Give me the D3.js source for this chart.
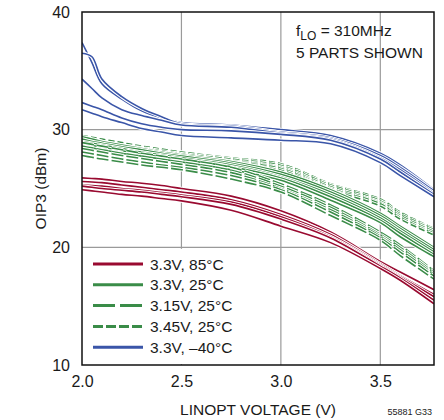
<!DOCTYPE html>
<html>
<head>
<meta charset="utf-8">
<script src="https://cdn.jsdelivr.net/npm/d3@7"></script>
<style>
body { margin: 0; background: #fff; }
svg { display: block; font-family: "Liberation Sans", Arial, sans-serif; }
</style>
</head>
<body>
<svg id="chart" width="444" height="420"></svg>
<script>
// ---- data ----
const xs = [2.0, 2.05, 2.1, 2.2, 2.3, 2.4, 2.5, 2.75, 3.0, 3.25, 3.5, 3.6, 3.77];

const red85 = [
  [25.9, 25.85, 25.8, 25.6, 25.45, 25.25, 25.0, 24.35, 23.1, 21.3, 18.8, 17.9, 16.4],
  [25.6, 25.55, 25.5, 25.3, 25.1, 24.9, 24.7, 24.05, 22.8, 21.1, 18.6, 17.6, 16.0],
  [25.3, 25.25, 25.2, 25.0, 24.85, 24.65, 24.45, 23.85, 22.6, 20.9, 18.5, 17.5, 15.8],
  [25.2, 25.1, 25.0, 24.85, 24.7, 24.5, 24.3, 23.65, 22.4, 20.8, 18.4, 17.4, 15.5],
  [24.9, 24.8, 24.7, 24.5, 24.35, 24.15, 23.95, 23.15, 21.8, 20.4, 18.2, 17.2, 15.2]
];
const green33 = [
  [29.4, 29.2, 29.0, 28.7, 28.4, 28.1, 27.85, 27.3, 26.4, 24.9, 22.9, 21.8, 20.0],
  [29.2, 29.0, 28.85, 28.55, 28.3, 28.0, 27.75, 27.15, 26.2, 24.7, 22.7, 21.6, 19.8],
  [29.0, 28.85, 28.7, 28.4, 28.1, 27.85, 27.6, 27.0, 26.0, 24.5, 22.5, 21.4, 19.6],
  [28.8, 28.65, 28.5, 28.2, 27.9, 27.7, 27.45, 26.85, 25.9, 24.3, 22.3, 21.2, 19.4],
  [28.6, 28.45, 28.3, 28.0, 27.75, 27.5, 27.25, 26.6, 25.7, 24.0, 22.1, 20.9, 19.2]
];
const green315 = [
  [28.9, 28.75, 28.6, 28.3, 28.0, 27.75, 27.5, 26.8, 25.4, 23.6, 21.3, 20.2, 18.0],
  [28.6, 28.45, 28.3, 28.0, 27.75, 27.5, 27.25, 26.55, 25.2, 23.4, 21.1, 20.0, 17.85],
  [28.4, 28.25, 28.1, 27.8, 27.55, 27.3, 27.05, 26.35, 25.0, 23.2, 20.95, 19.8, 17.7],
  [28.1, 27.95, 27.8, 27.5, 27.25, 27.0, 26.8, 26.1, 24.9, 23.0, 20.8, 19.6, 17.55],
  [27.8, 27.65, 27.5, 27.25, 27.0, 26.8, 26.6, 25.8, 24.7, 22.7, 20.6, 19.3, 17.3]
];
const green345 = [
  [29.5, 29.35, 29.2, 28.9, 28.6, 28.35, 28.1, 27.6, 27.1, 25.4, 24.1, 23.0, 21.6],
  [29.3, 29.15, 29.0, 28.7, 28.45, 28.2, 27.95, 27.5, 26.95, 25.3, 23.95, 22.85, 21.5],
  [29.1, 28.95, 28.8, 28.55, 28.3, 28.05, 27.8, 27.35, 26.8, 25.15, 23.8, 22.7, 21.35],
  [28.9, 28.75, 28.6, 28.35, 28.1, 27.9, 27.7, 27.25, 26.7, 25.0, 23.7, 22.55, 21.2],
  [28.7, 28.55, 28.4, 28.15, 27.95, 27.75, 27.55, 27.1, 26.55, 24.9, 23.5, 22.4, 21.05]
];
const blue40 = [
  [37.4, 35.7, 33.9, 32.6, 31.6, 31.0, 30.6, 30.4, 30.0, 29.5, 28.0, 27.0, 24.9],
  [36.5, 36.2, 34.3, 32.8, 31.8, 31.1, 30.5, 30.3, 29.8, 29.3, 27.8, 26.8, 24.8],
  [34.3, 33.5, 32.7, 31.7, 31.2, 30.8, 30.4, 30.2, 29.7, 29.2, 27.6, 26.6, 24.6],
  [32.3, 32.0, 31.7, 31.0, 30.5, 30.2, 30.0, 29.9, 29.6, 29.1, 27.5, 26.4, 24.5],
  [31.7, 31.4, 31.1, 30.6, 30.1, 29.8, 29.5, 29.3, 29.1, 28.8, 27.2, 26.1, 24.3]
];

const xTicks = [2.0, 2.5, 3.0, 3.5];
const yTicks = [10, 20, 30, 40];
const legendLabels = ["3.3V, 85°C", "3.3V, 25°C", "3.15V, 25°C", "3.45V, 25°C", "3.3V, \u201340°C"];

// ---- styles ----
const RED = "#990a30", GREEN = "#3a8c48", BLUE = "#3a55a8";
const groups = [
  { data: blue40, color: BLUE, dash: null, legendDash: null, li: 4 },
  { data: green345, color: GREEN, dash: "6,3", legendDash: "10,3", li: 3 },
  { data: green33, color: GREEN, dash: null, legendDash: null, li: 1 },
  { data: green315, color: GREEN, dash: "12,3", legendDash: "22,5", li: 2 },
  { data: red85, color: RED, dash: null, legendDash: null, li: 0 }
];

const svg = d3.select("#chart");
const L = 82, R = 434, T = 12, B = 365;
const x = d3.scaleLinear().domain([2.0, 3.77]).range([L, R]);
const y = d3.scaleLinear().domain([10, 40]).range([B, T]);
const TXT = "#1a1a1a";

// grid
const grid = svg.append("g").attr("stroke", "#9a9a9a").attr("stroke-width", 1.2);
xTicks.filter(t => t > 2.0).forEach(t => {
  grid.append("line").attr("x1", x(t)).attr("x2", x(t)).attr("y1", T).attr("y2", B);
});
yTicks.filter(t => t > 10 && t < 40).forEach(t => {
  grid.append("line").attr("x1", L).attr("x2", R).attr("y1", y(t)).attr("y2", y(t));
});

// clip
svg.append("clipPath").attr("id", "clip").append("rect")
  .attr("x", L).attr("y", T).attr("width", R - L).attr("height", B - T);

const line = d3.line().x((d, i) => x(xs[i])).y(d => y(d)).curve(d3.curveCatmullRom.alpha(0.5));
const plot = svg.append("g").attr("clip-path", "url(#clip)");
groups.forEach(g => {
  g.data.forEach(s => {
    plot.append("path").attr("d", line(s)).attr("fill", "none")
      .attr("stroke", "#fff").attr("stroke-width", 3.6)
      .attr("stroke-dasharray", g.dash);
    plot.append("path").attr("d", line(s)).attr("fill", "none")
      .attr("stroke", g.color).attr("stroke-width", 1.6)
      .attr("stroke-dasharray", g.dash);
  });
});

// legend box (white) covering grid
svg.append("rect").attr("x", L + 1).attr("y", y(20) + 1.5).attr("width", 192).attr("height", B - y(20) - 2.5).attr("fill", "#fff");
const legendStyles = [];
groups.forEach(g => legendStyles[g.li] = g);
legendLabels.forEach((lab, i) => {
  const g = legendStyles[i];
  const ly = 264 + i * 20.8;
  svg.append("line").attr("x1", 93).attr("x2", 143).attr("y1", ly).attr("y2", ly)
    .attr("stroke", g.color).attr("stroke-width", 3).attr("stroke-dasharray", g.legendDash);
  svg.append("text").attr("x", 150).attr("y", ly + 5.5).attr("font-size", 15.5).attr("fill", TXT).text(lab);
});

// frame
svg.append("rect").attr("x", L).attr("y", T).attr("width", R - L).attr("height", B - T)
  .attr("fill", "none").attr("stroke", "#111").attr("stroke-width", 1.5);

// axes tick labels
const xAxis = d3.axisBottom(x).tickValues(xTicks).tickFormat(d3.format(".1f")).tickSize(0).tickPadding(11);
const gx = svg.append("g").attr("transform", `translate(0,${B})`).call(xAxis);
gx.select(".domain").remove();
gx.selectAll("text").attr("font-size", 16).attr("fill", TXT).attr("font-family", "Liberation Sans, Arial, sans-serif");

const yAxis = d3.axisLeft(y).tickValues(yTicks).tickFormat(d3.format("d")).tickSize(0).tickPadding(12);
const gy = svg.append("g").attr("transform", `translate(${L},0)`).call(yAxis);
gy.select(".domain").remove();
gy.selectAll("text").attr("font-size", 16).attr("fill", TXT).attr("font-family", "Liberation Sans, Arial, sans-serif");

// titles
svg.append("text").attr("x", (L + R) / 2).attr("y", 415).attr("text-anchor", "middle")
  .attr("font-size", 15.5).attr("fill", TXT).text("LINOPT VOLTAGE (V)");
svg.append("text").attr("transform", `translate(46,${(T + B) / 2}) rotate(-90)`).attr("text-anchor", "middle")
  .attr("font-size", 15.5).attr("fill", TXT).text("OIP3 (dBm)");

// annotation
const ann = svg.append("text").attr("x", 296).attr("y", 36).attr("font-size", 15.5).attr("fill", TXT);
ann.append("tspan").text("f");
ann.append("tspan").attr("dy", 4).attr("font-size", 12).text("LO");
ann.append("tspan").attr("dy", -4).text(" = 310MHz");
svg.append("text").attr("x", 296).attr("y", 57.5).attr("font-size", 15.5).attr("fill", TXT).text("5 PARTS SHOWN");

svg.append("text").attr("x", 432).attr("y", 415).attr("text-anchor", "end")
  .attr("font-size", 9).attr("fill", TXT).text("55881 G33");
</script>
</body>
</html>
